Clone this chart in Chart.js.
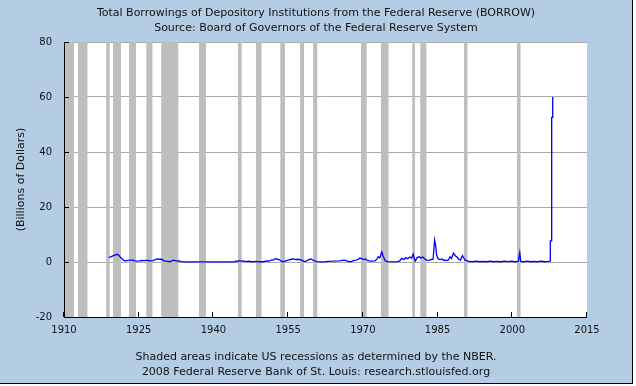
<!DOCTYPE html>
<html>
<head>
<meta charset="utf-8">
<script src="https://cdn.jsdelivr.net/npm/chart.js@4.4.0/dist/chart.umd.min.js"></script>
<style>
  html, body { margin: 0; padding: 0; background: #fff; }
  #frame {
    position: relative; width: 632px; height: 383px; background: #b4cde5;
    border-right: 1px solid #000; border-bottom: 1px solid #000; overflow: hidden;
    font-family: "DejaVu Sans", Verdana, sans-serif; color: #111;
  }
  #frame canvas { position: absolute; left: 0; top: 0; }
  .txt { position: absolute; left: 0; width: 632px; text-align: center; font-size: 11px; line-height: 15px; white-space: nowrap; }
</style>
</head>
<body>
<div id="frame">
  <canvas id="chart" width="632" height="383"></canvas>
  <div class="txt" style="top:5px">Total Borrowings of Depository Institutions from the Federal Reserve (BORROW)<br>Source: Board of Governors of the Federal Reserve System</div>
  <div class="txt" style="top:349px">Shaded areas indicate US recessions as determined by the NBER.<br>2008 Federal Reserve Bank of St. Louis: research.stlouisfed.org</div>
</div>
<script>
// borrowings, billions of dollars
const borrowDates = [
  1919.0, 1919.4, 1919.8, 1920.2, 1920.6, 1920.9, 1921.2, 1921.6, 1922.0, 1922.4, 1922.9,
  1923.3, 1923.8, 1924.2, 1924.7, 1925.2, 1925.7, 1926.2, 1926.6, 1927.0, 1927.5, 1927.9,
  1928.3, 1928.7, 1929.2, 1929.6, 1929.9, 1930.3, 1930.8, 1931.3, 1931.8, 1932.2, 1932.7,
  1933.1, 1933.5, 1934.0, 1944.3, 1944.6, 1944.9, 1945.2, 1945.6, 1946.0, 1946.5, 1947.0,
  1947.5, 1948.0, 1948.6, 1949.0, 1950.0, 1950.7, 1951.2, 1951.7, 1952.1, 1952.4, 1952.8,
  1953.2, 1953.6, 1954.0, 1954.7, 1955.2, 1955.6, 1956.0, 1956.5, 1956.9, 1957.4, 1957.8,
  1958.2, 1958.7, 1959.1, 1959.5, 1959.9, 1960.3, 1960.7, 1961.5, 1962.5, 1963.0, 1964.0,
  1965.0, 1965.6, 1966.1, 1966.6, 1967.0, 1967.6, 1968.1, 1968.6, 1969.1, 1969.4, 1969.8,
  1970.1, 1970.5, 1970.8, 1971.3, 1971.8, 1972.4, 1972.8, 1973.1, 1973.4, 1973.8, 1974.1,
  1974.5, 1975.0, 1976.0, 1977.0, 1977.4, 1977.8, 1978.2, 1978.6, 1979.0, 1979.4, 1979.8,
  1980.1, 1980.5, 1980.9, 1981.3, 1981.7, 1982.0, 1982.4, 1982.8, 1983.2, 1983.7, 1984.1,
  1984.4, 1984.6, 1984.8, 1985.1, 1985.5, 1985.9, 1986.2, 1986.5, 1986.9, 1987.2, 1987.5,
  1987.8, 1988.2, 1988.6, 1988.9, 1989.2, 1989.6, 1990.0, 1990.5, 1990.9, 1991.2, 1992.0,
  1992.8, 1993.5, 1994.2, 1994.9, 1995.6, 1996.3, 1997.0, 1997.7, 1998.4, 1999.1, 1999.8,
  2000.5, 2001.2, 2001.5, 2001.7, 2002.3, 2003.0, 2003.7, 2004.4, 2005.1, 2005.8, 2006.5,
  2007.2, 2007.63, 2007.63, 2007.91, 2007.91, 2008.11, 2008.11
];
const borrowValues = [
  1.7, 1.9, 2.2, 2.5, 2.8, 2.6, 2.0, 1.3, 0.6, 0.4, 0.6,
  0.7, 0.7, 0.4, 0.3, 0.4, 0.55, 0.5, 0.7, 0.45, 0.4, 0.5,
  0.9, 1.1, 1.0, 1.0, 0.6, 0.3, 0.25, 0.1, 0.6, 0.6, 0.35,
  0.4, 0.1, 0.02, 0.05, 0.4, 0.2, 0.5, 0.3, 0.4, 0.15, 0.3,
  0.1, 0.15, 0.25, 0.1, 0.1, 0.4, 0.3, 0.8, 0.7, 1.3, 1.0,
  0.9, 0.3, 0.1, 0.5, 0.8, 1.0, 1.1, 0.9, 1.0, 0.9, 0.6,
  0.15, 0.4, 0.8, 1.1, 0.8, 0.4, 0.1, 0.05, 0.08, 0.25, 0.3,
  0.4, 0.5, 0.7, 0.6, 0.2, 0.1, 0.5, 0.7, 1.0, 1.45, 1.2,
  0.9, 1.1, 0.7, 0.4, 0.3, 0.4, 1.0, 1.9, 1.5, 3.7, 2.0,
  0.4, 0.1, 0.05, 0.1, 0.4, 1.3, 0.9, 1.5, 1.2, 1.8, 1.4,
  2.9, 0.3, 1.6, 1.9, 1.4, 1.9, 1.2, 0.7, 0.6, 0.9, 1.0,
  8.0, 6.2, 2.5, 1.2, 0.9, 1.1, 0.6, 0.7, 0.5, 0.8, 1.9,
  1.3, 3.2, 2.2, 1.8, 1.1, 0.7, 2.3, 0.7, 0.5, 0.2, 0.1,
  0.3, 0.1, 0.2, 0.1, 0.3, 0.1, 0.25, 0.1, 0.3, 0.15, 0.35,
  0.1, 0.2, 3.4, 0.2, 0.1, 0.3, 0.1, 0.2, 0.1, 0.3, 0.1,
  0.2, 0.3, 7.7, 7.7, 52.6, 52.6, 60
];

// NBER recessions shown as shaded bars
const recessionStart = [1910.0, 1912.8, 1918.45, 1919.85, 1923.05, 1926.5, 1929.5, 1937.1, 1944.9, 1948.5,
  1953.4, 1957.4, 1960.0, 1969.6, 1973.6, 1979.9, 1981.5, 1990.3, 2000.95];
const recessionEnd = [1912.0, 1914.75, 1919.2, 1921.45, 1924.45, 1927.8, 1933.0, 1938.5, 1945.7, 1949.7,
  1954.4, 1958.2, 1960.9, 1970.8, 1975.2, 1980.5, 1982.8, 1991.05, 2001.7];

const xMin = 1910, xMax = 2015, xStep = 15;
const yMin = -20, yMax = 80, yStep = 20;

const recessionSets = recessionStart.map((s, i) => ({
  data: [{ x: s, y: yMax }, { x: recessionEnd[i], y: yMax }],
  borderColor: 'rgba(0,0,0,0)',
  backgroundColor: '#bebebe',
  fill: { value: yMin },
  pointRadius: 0,
  order: 1
}));

// white plot area
const plotBg = {
  id: 'plotBg',
  beforeDraw(chart) {
    const { ctx, chartArea: a } = chart;
    ctx.save();
    ctx.fillStyle = '#fff';
    ctx.fillRect(a.left, a.top, a.right - a.left, a.bottom - a.top);
    ctx.restore();
  }
};

// ticks point into the plot, and the axis lines sit above the bars
const axisTicks = {
  id: 'axisTicks',
  afterDraw(chart) {
    const { ctx, chartArea: a, scales: { x, y } } = chart;
    ctx.save();
    ctx.strokeStyle = '#000';
    ctx.lineWidth = 1;
    ctx.beginPath();
    ctx.moveTo(a.left + 0.5, a.top);
    ctx.lineTo(a.left + 0.5, a.bottom + 0.5);
    ctx.lineTo(a.right, a.bottom + 0.5);
    y.ticks.forEach(t => {
      const py = Math.round(y.getPixelForValue(t.value)) + 0.5;
      ctx.moveTo(a.left, py);
      ctx.lineTo(a.left + 5, py);
    });
    x.ticks.forEach(t => {
      const px = Math.round(x.getPixelForValue(t.value)) - 0.5;
      ctx.moveTo(px, a.bottom);
      ctx.lineTo(px, a.bottom - 5);
    });
    ctx.stroke();
    ctx.restore();
  }
};

const font = { family: '"DejaVu Sans", Verdana, sans-serif', size: 10 };

new Chart(document.getElementById('chart'), {
  type: 'line',
  data: {
    datasets: [{
      data: borrowDates.map((d, i) => ({ x: d, y: borrowValues[i] })),
      borderColor: '#0000ff',
      borderWidth: 1.3,
      pointRadius: 0,
      tension: 0,
      fill: false,
      order: 0
    }, ...recessionSets]
  },
  options: {
    responsive: false,
    animation: false,
    layout: { padding: { left: 0, right: 45, top: 42, bottom: 44 } },
    plugins: { legend: { display: false }, tooltip: { enabled: false } },
    scales: {
      x: {
        type: 'linear', min: xMin, max: xMax,
        grid: { display: false, drawTicks: false },
        border: { display: false },
        ticks: { stepSize: xStep, padding: 7, color: '#111', font, maxRotation: 0,
          callback: v => String(v) },
        afterFit: s => { s.height = 22; }
      },
      y: {
        min: yMin, max: yMax,
        grid: { color: '#aaaaaa', drawTicks: false },
        border: { display: false },
        ticks: { stepSize: yStep, padding: 12, color: '#111', font },
        title: { display: true, text: '(Billions of Dollars)', color: '#111',
          font: { family: font.family, size: 11 }, padding: { top: 15 } },
        afterFit: s => { s.width = 64; }
      }
    }
  },
  plugins: [plotBg, axisTicks]
});
</script>
</body>
</html>
